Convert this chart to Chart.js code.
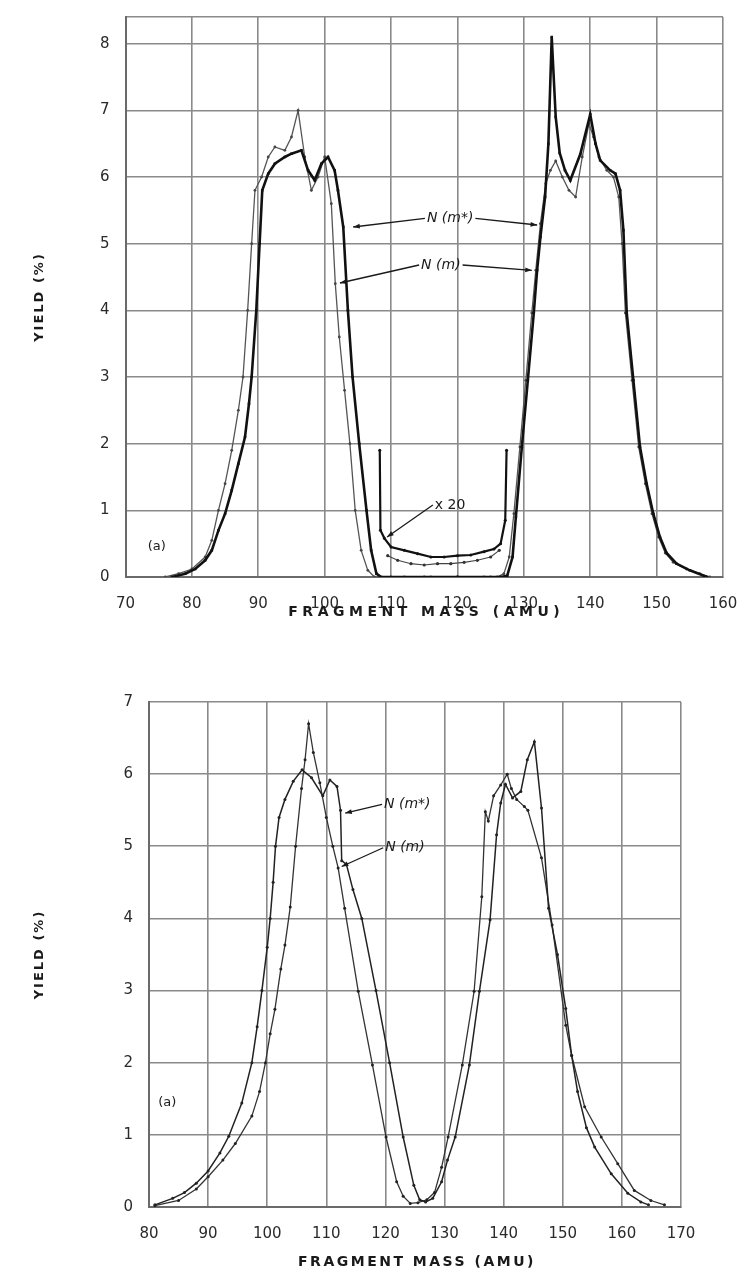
<!DOCTYPE html>
<html>
<head>
<meta charset="utf-8">
<script src="https://cdn.jsdelivr.net/npm/chart.js@4.4.0/dist/chart.umd.min.js"></script>
<style>
  body { margin: 0; background: #fff; width: 743px; height: 1280px; overflow: hidden; }
  .panel { position: absolute; left: 0; width: 743px; height: 630px; }
</style>
</head>
<body>
<div class="panel" style="top:0"><canvas id="topChart" width="743" height="630"></canvas></div>
<div class="panel" style="top:650px"><canvas id="bottomChart" width="743" height="630"></canvas></div>
<script>
// ---- panel (a), upper: fragment mass yield, N(m*) and N(m)
const topMassStar = [77, 79, 80.5, 82, 83, 84, 85, 86, 87, 88, 88.6, 89, 89.7, 90.2, 90.6, 91.5, 92.5, 94, 95, 96.5, 97.5, 98.5, 99.5, 100.5, 101.5, 102, 102.8, 103.5, 104.2, 105.2, 106.3, 107, 107.8, 108.5, 112, 116, 120, 124, 126.5, 127.5, 128.3, 128.8, 129.7, 130.6, 131.5, 132, 132.5, 133.2, 133.7, 134.2, 134.8, 135.4, 136.2, 137, 138.5, 140, 140.8, 141.5, 143, 143.8, 144.5, 145, 145.5, 146.5, 147.5, 148.5, 149.5, 150.5, 151.5, 153, 155, 157.6];
const topYieldStar = [0, 0.05, 0.12, 0.25, 0.4, 0.7, 0.95, 1.3, 1.7, 2.1, 2.6, 3.0, 4.0, 5.0, 5.8, 6.05, 6.2, 6.3, 6.35, 6.4, 6.1, 5.95, 6.2, 6.3, 6.1, 5.8, 5.25, 4.0, 3.0, 2.0, 1.0, 0.4, 0.05, 0, 0, 0, 0, 0, 0, 0.02, 0.3, 0.9, 1.95, 2.95, 3.96, 4.6, 5.1, 5.7, 6.5, 8.1, 6.9, 6.36, 6.1, 5.95, 6.34, 6.94, 6.5, 6.25, 6.1, 6.05, 5.8, 5.2, 3.96, 2.95, 1.95, 1.4, 0.95, 0.6, 0.36, 0.2, 0.1, 0];

const topMass = [76, 78, 80, 82, 83, 84, 85, 86, 87, 87.7, 88.4, 89, 89.5, 90.5, 91.5, 92.5, 94, 95, 96, 97, 98, 99, 100, 101, 101.6, 102.2, 103, 103.8, 104.6, 105.5, 106.5, 107.5, 110, 115, 120, 125, 126, 127, 127.8, 128.5, 129.4, 130.3, 131.2, 131.8, 132.5, 133.3, 134, 134.8, 135.8, 136.8, 137.8, 138.8, 139.8, 140.5, 141.3, 142.5, 143.5, 144.3, 144.8, 145.3, 146.3, 147.3, 148.3, 149.3, 150.3, 151.3, 152.5, 154.5, 156.5, 158];
const topYield = [0, 0.05, 0.12, 0.3, 0.55, 1.0, 1.4, 1.9, 2.5, 3.0, 4.0, 5.0, 5.8, 6.0, 6.3, 6.45, 6.4, 6.6, 7.0, 6.3, 5.8, 6.0, 6.3, 5.6, 4.4, 3.6, 2.8, 2.0, 1.0, 0.4, 0.1, 0, 0, 0, 0, 0, 0, 0.05, 0.3, 0.95, 1.95, 2.95, 3.96, 4.6, 5.3, 5.9, 6.1, 6.24, 6.0, 5.8, 5.7, 6.3, 6.8, 6.6, 6.3, 6.1, 6.0, 5.7, 5.0, 3.96, 2.95, 1.95, 1.4, 0.95, 0.6, 0.36, 0.22, 0.12, 0.05, 0];

// valley region magnified x 20
const topMassStarX20 = [108.3, 108.4, 109, 110, 112, 114, 116, 118, 120, 122, 124, 125.5, 126.5, 127.2, 127.4];
const topYieldStarX20 = [1.9, 0.7, 0.58, 0.45, 0.4, 0.35, 0.3, 0.3, 0.32, 0.33, 0.38, 0.42, 0.5, 0.85, 1.9];
const topMassX20 = [109.5, 111, 113, 115, 117, 119, 121, 123, 125, 126.3];
const topYieldX20 = [0.32, 0.25, 0.2, 0.18, 0.2, 0.2, 0.22, 0.25, 0.3, 0.4];

const topXTicks = [70, 80, 90, 100, 110, 120, 130, 140, 150, 160];
const topYTicks = [0, 1, 2, 3, 4, 5, 6, 7, 8];
const topYMax = 8.4;

// ---- panel (a), lower
const botMassStar = [81, 84, 86, 88, 90, 92, 93.5, 95.7, 97.4, 98.3, 99.1, 100, 100.5, 101, 101.4, 102, 103, 104.4, 105.9, 107.5, 109.4, 110.6, 111.8, 112.4, 112.6, 113.4, 114.5, 116, 118.4, 120.7, 123, 124.8, 125.8, 126.8, 128, 129.5, 130.5, 131.8, 134.2, 135.9, 137.7, 138.8, 139.5, 140.3, 141.5, 142.9, 144, 145.2, 146.4, 147.6, 149.1, 150.5, 151.5, 152.5, 154, 155.4, 158.2, 161, 163.2, 164.5];
const botYieldStar = [0.03, 0.12, 0.2, 0.33, 0.5, 0.75, 0.98, 1.44, 2.0, 2.5, 3.0, 3.6, 4.0, 4.5, 5.0, 5.4, 5.65, 5.9, 6.06, 5.95, 5.7, 5.92, 5.83, 5.5, 4.8, 4.75, 4.4, 4.0, 3.0, 2.0, 0.97, 0.3, 0.1, 0.07, 0.12, 0.35, 0.65, 0.97, 1.97, 2.99, 3.98, 5.16, 5.6, 5.86, 5.67, 5.76, 6.2, 6.45, 5.53, 4.14, 3.5, 2.75, 2.1, 1.6, 1.1, 0.83, 0.46, 0.19, 0.07, 0.03];

const botMass = [81, 85, 88, 90, 92.5, 94.6, 97.4, 98.7, 99.7, 100.5, 101.3, 102.3, 103, 103.9, 104.8, 105.8, 106.4, 107, 107.8, 108.9, 110, 111.1, 112, 113.1, 115.4, 117.8, 120.1, 121.9, 123, 124.2, 125.5, 127, 128.3, 129.5, 130.6, 133, 135, 136.3, 136.9, 137.4, 138.3, 139.5, 140.6, 141.3, 142.2, 143.5, 144.1, 146.4, 148.2, 150.5, 151.5, 153.7, 156.5, 159.3, 162.1, 164.9, 167.2];
const botYield = [0.02, 0.09, 0.25, 0.42, 0.65, 0.88, 1.26, 1.6, 2.0, 2.4, 2.74, 3.3, 3.63, 4.16, 5.0, 5.8, 6.2, 6.7, 6.3, 5.88, 5.4, 5.0, 4.7, 4.14, 2.99, 1.97, 0.97, 0.35, 0.15, 0.05, 0.06, 0.1, 0.2, 0.55, 0.97, 1.97, 2.99, 4.3, 5.48, 5.35, 5.7, 5.85, 6.0, 5.8, 5.65, 5.55, 5.5, 4.84, 3.91, 2.52, 2.1, 1.39, 0.97, 0.6, 0.23, 0.09, 0.03];

const botXTicks = [80, 90, 100, 110, 120, 130, 140, 150, 160, 170];
const botYTicks = [0, 1, 2, 3, 4, 5, 6, 7];

// labels written on the plots (anchored in data units)
const noteFont = 'italic 14px "DejaVu Sans"';
const topNotes = [
    { text: 'N (m*)', x: 118.9, y: 5.38, font: noteFont, tips: [[104.3, 5.25], [132, 5.28]] },
    { text: 'N (m)', x: 117.5, y: 4.68, font: noteFont, tips: [[102.3, 4.41], [131.2, 4.6]] },
    { text: 'x 20', x: 118.9, y: 1.08, font: '14px "DejaVu Sans"', tips: [[109.4, 0.6]] },
    { text: '(a)', x: 74.7, y: 0.45, font: '13px "DejaVu Sans"' }
];
const botNotes = [
    { text: 'N (m*)', x: 123.7, y: 5.58, font: noteFont, tips: [[113.2, 5.46]] },
    { text: 'N (m)', x: 123.3, y: 4.98, font: noteFont, tips: [[112.6, 4.72]] },
    { text: '(a)', x: 83.1, y: 1.44, font: '13px "DejaVu Sans"' }
];

const pts = (xs, ys) => xs.map((m, i) => ({ x: m, y: ys[i] }));

const notesPlugin = {
    id: 'paperNotes',
    afterDatasetsDraw(chart, args, opts) {
        const { ctx, chartArea, scales: { x, y } } = chart;
        ctx.save();
        ctx.fillStyle = '#1a1a1a';
        ctx.strokeStyle = '#1a1a1a';
        ctx.textAlign = 'center';
        ctx.textBaseline = 'middle';
        opts.notes.forEach(n => {
            ctx.font = n.font;
            const px = x.getPixelForValue(n.x);
            const py = y.getPixelForValue(n.y);
            const half = ctx.measureText(n.text).width / 2;
            ctx.fillText(n.text, px, py);
            ctx.lineWidth = 1.3;
            (n.tips || []).forEach(([tx, ty]) => {
                const sx = tx < n.x ? px - half - 2 : px + half + 2;
                const ex = x.getPixelForValue(tx), ey = y.getPixelForValue(ty);
                ctx.beginPath();
                ctx.moveTo(sx, py);
                ctx.lineTo(ex, ey);
                ctx.stroke();
                const a = Math.atan2(ey - py, ex - sx);
                ctx.beginPath();
                ctx.moveTo(ex, ey);
                ctx.lineTo(ex - 7 * Math.cos(a - 0.35), ey - 7 * Math.sin(a - 0.35));
                ctx.lineTo(ex - 7 * Math.cos(a + 0.35), ey - 7 * Math.sin(a + 0.35));
                ctx.closePath();
                ctx.fill();
            });
        });
        // axis titles, spaced out like the typeset original
        ctx.font = 'bold 14px "DejaVu Sans"';
        ctx.letterSpacing = opts.xTitleSpacing;
        ctx.fillText(opts.xTitle, (chartArea.left + chartArea.right) / 2 + 2, chart.height - 18);
        ctx.font = 'bold 13px "DejaVu Sans"';
        ctx.letterSpacing = '2px';
        ctx.translate(40, (chartArea.top + chartArea.bottom) / 2);
        ctx.rotate(-Math.PI / 2);
        ctx.fillText(opts.yTitle, 0, 0);
        ctx.restore();
    }
};

function makeOptions(cfg) {
    const tickFont = { family: 'DejaVu Sans', size: 15 };
    // tick marks are invisible; their length only pushes the labels away from the frame
    const gridX = { color: '#8a8a8a', lineWidth: 1.6, drawTicks: true, tickLength: 16, tickColor: 'rgba(0,0,0,0)' };
    const gridY = { color: '#8a8a8a', lineWidth: 1.6, drawTicks: true, tickLength: 14, tickColor: 'rgba(0,0,0,0)' };
    return {
        responsive: false,
        animation: false,
        layout: { padding: { top: cfg.padTop, right: cfg.padRight, left: 0, bottom: 0 } },
        scales: {
            x: {
                type: 'linear',
                min: cfg.xTicks[0],
                max: cfg.xTicks[cfg.xTicks.length - 1],
                grid: gridX,
                border: { color: '#6a6a6a', width: 2 },
                afterBuildTicks: s => { s.ticks = cfg.xTicks.map(v => ({ value: v })); },
                afterFit: s => { s.height = cfg.xAxisH; },
                ticks: { font: tickFont, color: '#2a2a2a', padding: 2, maxRotation: 0 }
            },
            y: {
                type: 'linear',
                min: 0,
                max: cfg.yMax,
                grid: gridY,
                border: { color: '#6a6a6a', width: 2 },
                afterBuildTicks: s => {
                    const t = cfg.yTicks.map(v => ({ value: v }));
                    if (cfg.yMax !== cfg.yTicks[cfg.yTicks.length - 1]) t.push({ value: cfg.yMax });
                    s.ticks = t;
                },
                afterFit: s => { s.width = cfg.yAxisW; },
                ticks: {
                    font: tickFont, color: '#2a2a2a', padding: 2,
                    callback: v => Number.isInteger(v) ? v : ''
                }
            }
        },
        plugins: {
            legend: { display: false },
            tooltip: { enabled: false },
            paperNotes: { notes: cfg.notes, xTitle: 'FRAGMENT MASS (AMU)', yTitle: 'YIELD (%)', xTitleSpacing: cfg.xTitleSpacing }
        }
    };
}

new Chart(document.getElementById('topChart'), {
    type: 'scatter',
    data: {
        datasets: [
            { label: 'N (m*)', data: pts(topMassStar, topYieldStar), showLine: true, borderColor: '#111', borderWidth: 2.6,
              pointRadius: 1.8, pointStyle: 'rect', pointBackgroundColor: '#111', pointBorderWidth: 0 },
            { label: 'N (m)', data: pts(topMass, topYield), showLine: true, borderColor: '#555', borderWidth: 1.3,
              pointRadius: 1.4, pointBackgroundColor: '#444', pointBorderWidth: 0 },
            { label: 'N (m*) x 20', data: pts(topMassStarX20, topYieldStarX20), showLine: true, borderColor: '#111', borderWidth: 2.2,
              pointRadius: 1.5, pointBackgroundColor: '#111', pointBorderWidth: 0 },
            { label: 'N (m) x 20', data: pts(topMassX20, topYieldX20), showLine: true, borderColor: '#444', borderWidth: 1.1,
              pointRadius: 1.6, pointBackgroundColor: '#333', pointBorderWidth: 0 }
        ]
    },
    options: makeOptions({ xTicks: topXTicks, yTicks: topYTicks, yMax: topYMax, padTop: 17, padRight: 20,
                           yAxisW: 125.5, xAxisH: 53, notes: topNotes, xTitleSpacing: '4.5px' }),
    plugins: [notesPlugin]
});

new Chart(document.getElementById('bottomChart'), {
    type: 'scatter',
    data: {
        datasets: [
            { label: 'N (m*)', data: pts(botMassStar, botYieldStar), showLine: true, borderColor: '#222', borderWidth: 1.5,
              pointRadius: 1.5, pointBackgroundColor: '#222', pointBorderWidth: 0 },
            { label: 'N (m)', data: pts(botMass, botYield), showLine: true, borderColor: '#333', borderWidth: 1.3,
              pointRadius: 1.5, pointBackgroundColor: '#222', pointBorderWidth: 0 }
        ]
    },
    options: makeOptions({ xTicks: botXTicks, yTicks: botYTicks, yMax: 7, padTop: 52, padRight: 62,
                           yAxisW: 149, xAxisH: 73, notes: botNotes, xTitleSpacing: '2.5px' }),
    plugins: [notesPlugin]
});
</script>
</body>
</html>
